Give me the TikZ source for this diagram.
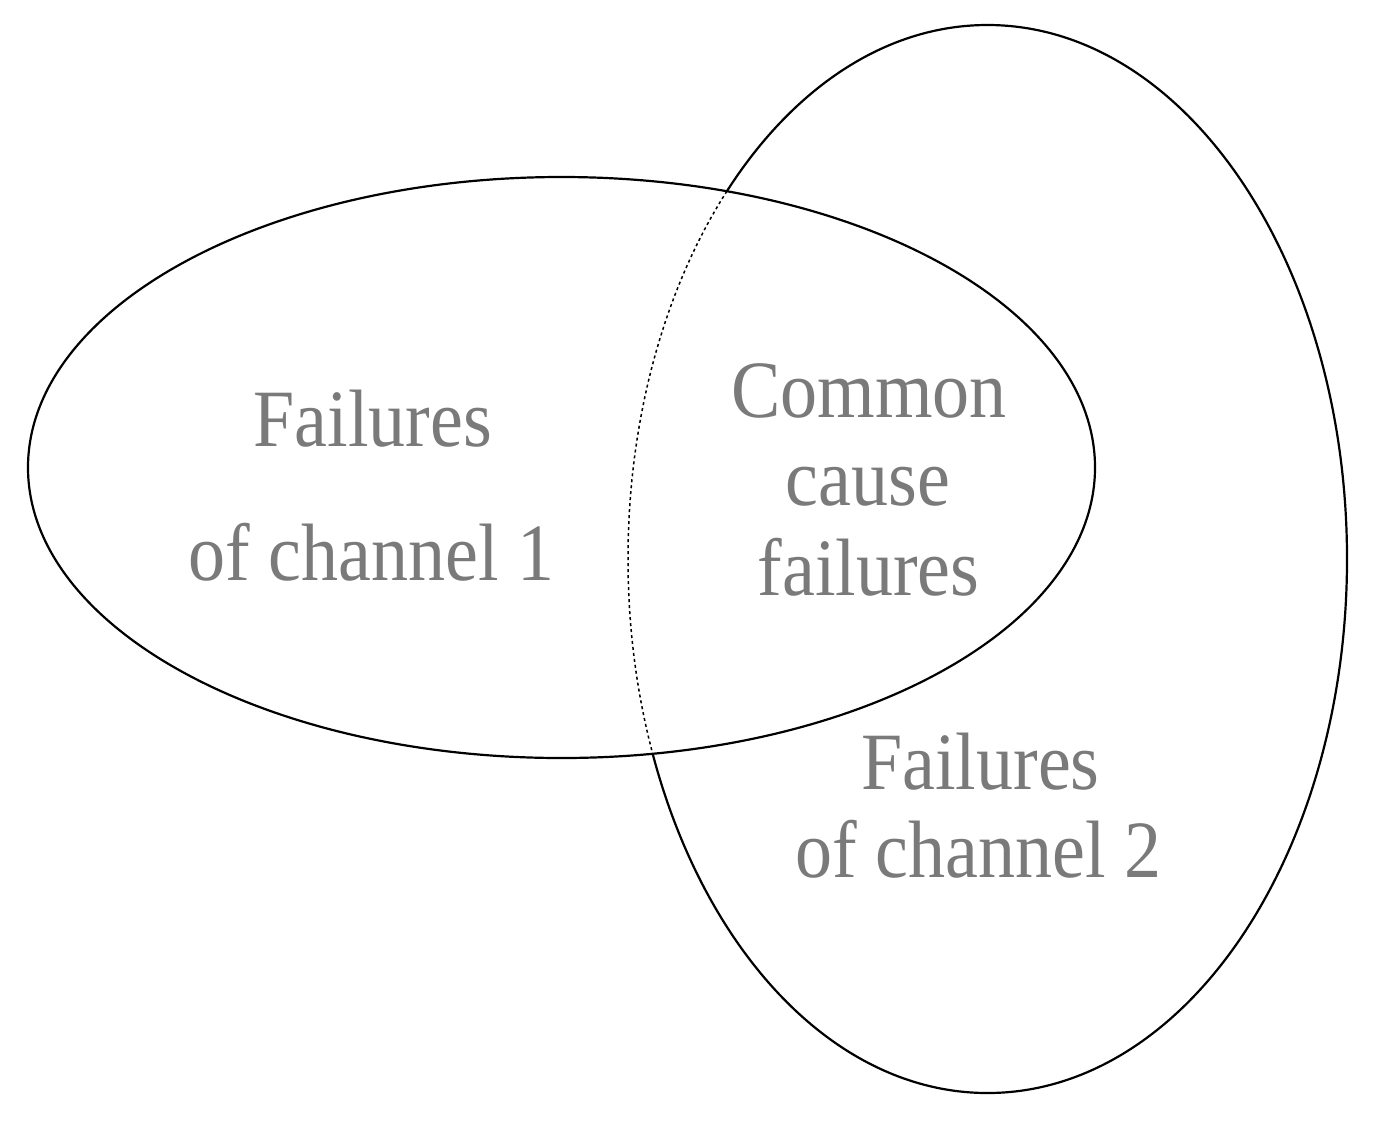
\documentclass[tikz,border=0pt]{standalone}
\usepackage{fontspec}
\setmainfont{Liberation Serif}
\begin{document}
\begin{tikzpicture}[x=1pt,y=-1pt,
  lbl/.style={inner sep=0pt, anchor=base, text=black!52, font=\fontsize{74}{80}\selectfont},
  solidline/.style={line width=2.2pt, black},
  dashline/.style={line width=1.5pt, black, dash pattern=on 3pt off 3pt}]
\useasboundingbox (0,0) rectangle (1396,1125);
% channel 1 ellipse
\draw[solidline] (561.5,467.5) ellipse [x radius=533.5, y radius=290.5];
% channel 2 ellipse, solid outside channel 1
\begin{scope}[even odd rule]
  \clip (-10,-10) rectangle (1406,1135) (561.5,467.5) ellipse [x radius=533.5, y radius=290.5];
  \draw[solidline] (987.5,559) ellipse [x radius=359.5, y radius=534];
\end{scope}
% channel 2 ellipse, dashed inside channel 1
\begin{scope}
  \clip (561.5,467.5) ellipse [x radius=532.5, y radius=289.5];
  \draw[dashline] (987.5,559) ellipse [x radius=359.5, y radius=534];
\end{scope}
\node[lbl] (f1a) at (373,446) {\scalebox{1}[1.1]{Failures}};
\node[lbl] (f1b) at (371.5,580) {\scalebox{1}[1.1]{of channel 1}};
\node[lbl] (cca) at (869,417) {\scalebox{1}[1.1]{Common}};
\node[lbl] (ccb) at (868,505) {\scalebox{1}[1.1]{cause}};
\node[lbl] (ccc) at (868.5,595) {\scalebox{1}[1.1]{failures}};
\node[lbl] (f2a) at (980.5,789) {\scalebox{1}[1.1]{Failures}};
\node[lbl] (f2b) at (978.5,877) {\scalebox{1}[1.1]{of channel 2}};
\end{tikzpicture}
\end{document}
